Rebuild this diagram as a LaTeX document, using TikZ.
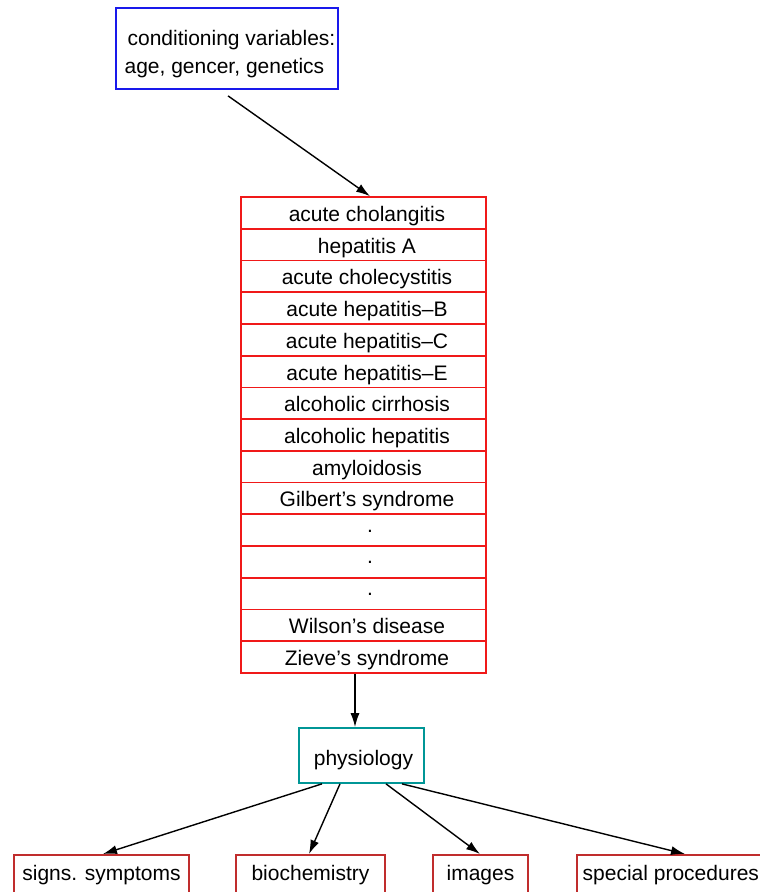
\documentclass[tikz,border=0pt]{standalone}
\usepackage{fontspec}
\setmainfont{Liberation Sans}
\usetikzlibrary{arrows.meta}
\definecolor{cblue}{RGB}{25,25,235}
\definecolor{cred}{RGB}{240,25,25}
\definecolor{cdred}{RGB}{192,45,45}
\definecolor{cteal}{RGB}{0,150,150}
\tikzset{
  arr/.style={line width=1.4pt,-{Latex[length=14pt,width=9pt]}},
  rowbox/.style={draw=cred,line width=1.7pt,minimum width=245pt,minimum height=31.73pt,inner sep=0pt,text height=17pt,text depth=0pt},
  dotrow/.style={rowbox,text height=4pt},
  botbox/.style={draw=cdred,line width=1.7pt,minimum height=46pt,inner sep=0pt,anchor=north,text height=6pt,text depth=0pt},
}
\begin{document}
\begin{tikzpicture}[x=1pt,y=-1pt,font=\fontsize{21}{28}\selectfont]
\useasboundingbox (0,0) rectangle (760,892);
\clip (0,0) rectangle (760,892);
\fill[white] (0,0) rectangle (760,892);
% conditioning box
\node[draw=cblue,line width=1.7pt,minimum width=222pt,minimum height=81pt,inner sep=0pt,align=left,text height=50pt,text depth=0pt] (cond) at (227,48.5)
  {\hspace*{9pt}conditioning variables:\\\hspace*{6pt}age, gencer, genetics};
% list of diseases
\foreach \t/\s [count=\i] in {acute cholangitis/rowbox,hepatitis A/rowbox,acute cholecystitis/rowbox,acute hepatitis--B/rowbox,acute hepatitis--C/rowbox,acute hepatitis--E/rowbox,alcoholic cirrhosis/rowbox,alcoholic hepatitis/rowbox,amyloidosis/rowbox,Gilbert’s syndrome/rowbox,\hspace*{6pt}./dotrow,\hspace*{6pt}./dotrow,\hspace*{6pt}./dotrow,Wilson’s disease/rowbox,Zieve’s syndrome/rowbox}
  \node[\s] (r\i) at (363.5,{197+31.73*(\i-0.5)}) {\hspace*{7pt}\t};
% physiology
\node[draw=cteal,line width=1.7pt,minimum width=125pt,minimum height=55pt,inner sep=0pt,text height=20pt,text depth=0pt] (phys) at (361.5,755.5) {\hspace*{4pt}physiology};
% bottom boxes
\node[botbox,minimum width=175pt] (sig) at (101.5,854) {signs. symptoms};
\node[botbox,minimum width=149pt] (bio) at (310.5,854) {biochemistry};
\node[botbox,minimum width=95pt] (img) at (480.5,854) {images};
\node[botbox,minimum width=220pt,anchor=north west] (spec) at (576,854) {special procedures\hspace*{32pt}};
% connectors
\draw[arr] ([xshift=1pt,yshift=-6pt]cond.south) -- ([xshift=6.5pt]r1.north);
\draw[arr] ([xshift=-8.5pt]r15.south) -- ([xshift=-6.5pt]phys.north);
\draw[arr] ([xshift=-39.5pt]phys.south) -- ([xshift=1.5pt]sig.north);
\draw[arr] ([xshift=-21.5pt]phys.south) -- ([xshift=-1.5pt]bio.north);
\draw[arr] ([xshift=24.5pt]phys.south) -- ([xshift=-0.5pt]img.north);
\draw[arr] ([xshift=40.5pt]phys.south) -- ([xshift=109pt]spec.north west);
\end{tikzpicture}
\end{document}
